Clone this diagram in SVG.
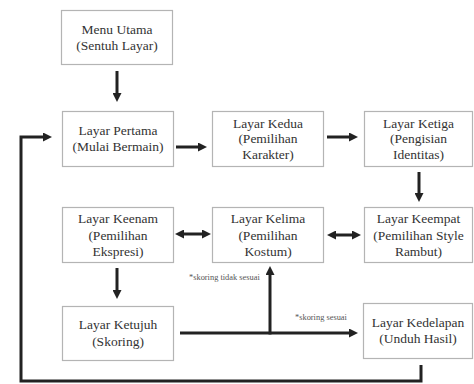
<svg xmlns="http://www.w3.org/2000/svg" width="474" height="384" viewBox="0 0 474 384" font-family="'Liberation Serif', 'Times New Roman', serif">
<style>
.box{fill:#fff;stroke:#b4b4b4;stroke-width:1.2}
text{font-family:"Liberation Serif","Times New Roman",serif}
.t{font-size:13.5px;fill:#333;text-anchor:middle}
.s{font-size:8.4px;fill:#555}
.c{fill:none;stroke:#222;stroke-width:3}
</style>
<defs>
<marker id="ah" viewBox="0 0 9 9" refX="3" refY="4.5" markerWidth="9" markerHeight="9" markerUnits="userSpaceOnUse" orient="auto-start-reverse">
<path d="M0,0 L9,4.5 L0,9 z" fill="#222"/>
</marker>
</defs>
<rect width="474" height="384" fill="#fff"/>
<g id="menu-utama"><rect class="box" x="61.5" y="10.5" width="111" height="54"/><text class="t" x="117" y="33.5" font-family="Liberation Serif, serif">Menu Utama</text><text class="t" x="117" y="50" font-family="Liberation Serif, serif">(Sentuh Layar)</text></g>
<g id="layar-pertama"><rect class="box" x="62.5" y="111.5" width="111" height="55"/><text class="t" x="118" y="135">Layar Pertama</text><text class="t" x="118" y="151">(Mulai Bermain)</text></g>
<g id="layar-kedua"><rect class="box" x="212.5" y="111.5" width="111" height="55"/><text class="t" x="268" y="127.5">Layar Kedua</text><text class="t" x="268" y="143">(Pemilihan</text><text class="t" x="268" y="159">Karakter)</text></g>
<g id="layar-ketiga"><rect class="box" x="364.5" y="111.5" width="108" height="55"/><text class="t" x="418.5" y="127.5">Layar Ketiga</text><text class="t" x="418.5" y="143">(Pengisian</text><text class="t" x="418.5" y="159">Identitas)</text></g>
<g id="layar-keempat"><rect class="box" x="364.5" y="207.5" width="108" height="55"/><text class="t" x="418.5" y="223">Layar Keempat</text><text class="t" x="418.5" y="239.5">(Pemilihan Style</text><text class="t" x="418.5" y="256">Rambut)</text></g>
<g id="layar-kelima"><rect class="box" x="212.5" y="207.5" width="111" height="55"/><text class="t" x="268" y="223">Layar Kelima</text><text class="t" x="268" y="239.5">(Pemilihan</text><text class="t" x="268" y="256">Kostum)</text></g>
<g id="layar-keenam"><rect class="box" x="62.5" y="207.5" width="111" height="55"/><text class="t" x="118" y="223">Layar Keenam</text><text class="t" x="118" y="239.5">(Pemilihan</text><text class="t" x="118" y="256">Ekspresi)</text></g>
<g id="layar-ketujuh"><rect class="box" x="62.5" y="306.5" width="111" height="54"/><text class="t" x="118" y="329">Layar Ketujuh</text><text class="t" x="118" y="346">(Skoring)</text></g>
<g id="layar-kedelapan"><rect class="box" x="363.5" y="303.5" width="109" height="55"/><text class="t" x="418" y="327">Layar Kedelapan</text><text class="t" x="418" y="343">(Unduh Hasil)</text></g>
<g id="connectors">
<line class="c" x1="117" y1="71" x2="117" y2="96" marker-end="url(#ah)"/>
<line class="c" x1="176" y1="147" x2="201" y2="147" marker-end="url(#ah)"/>
<line class="c" x1="327" y1="137" x2="352" y2="137" marker-end="url(#ah)"/>
<line class="c" x1="419" y1="172" x2="419" y2="196" marker-end="url(#ah)"/>
<line class="c" x1="333" y1="235" x2="355" y2="235" marker-start="url(#ah)" marker-end="url(#ah)"/>
<line class="c" x1="181" y1="234" x2="205" y2="234" marker-start="url(#ah)" marker-end="url(#ah)"/>
<line class="c" x1="117" y1="268" x2="117" y2="293" marker-end="url(#ah)"/>
<line class="c" x1="180" y1="333" x2="352" y2="333" marker-end="url(#ah)"/>
<line class="c" x1="270" y1="334.5" x2="270" y2="272" marker-end="url(#ah)"/>
<polyline class="c" points="421,365 421,381 21,381 21,137 46,137" marker-end="url(#ah)"/>
<text class="s" x="189" y="280">*skoring tidak sesuai</text>
<text class="s" x="295" y="320">*skoring sesuai</text>
</g>
</svg>
